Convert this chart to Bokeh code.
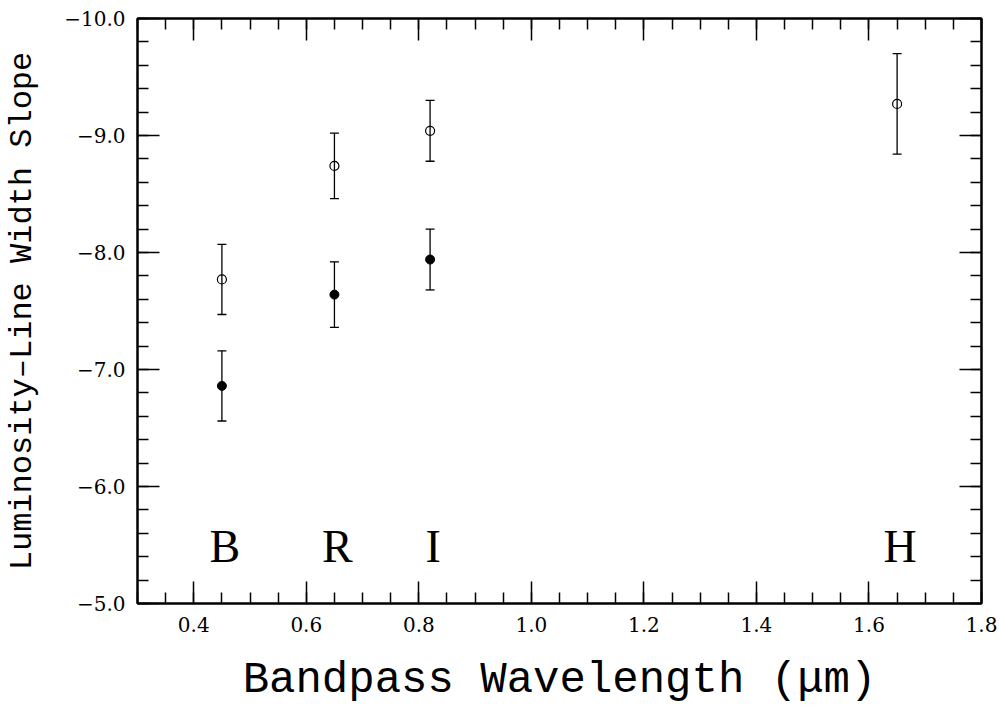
import numpy as np
from bokeh.plotting import figure
from bokeh.models import (Range1d, LinearAxis, FixedTicker, Whisker, TeeHead,
                          ColumnDataSource)
from bokeh.core.properties import value
from bokeh.embed import file_html
from bokeh.resources import INLINE

# Bandpasses and their central wavelengths (micron)
bands = ["B", "R", "I", "H"]
wavelength = [0.45, 0.65, 0.82, 1.65]

# Open symbols: slope in every band
slope_open = [-7.77, -8.74, -9.04, -9.27]
err_open = [0.30, 0.28, 0.26, 0.43]

# Filled symbols: B, R, I only
wavelength_filled = [0.45, 0.65, 0.82]
slope_filled = [-6.86, -7.64, -7.94]
err_filled = [0.30, 0.28, 0.26]

# Height at which the band names are written
band_label_y = -5.49

x_major = [0.4, 0.6, 0.8, 1.0, 1.2, 1.4, 1.6, 1.8]
x_labels = ["0.4", "0.6", "0.8", "1.0", "1.2", "1.4", "1.6", "1.8"]
y_major = [-10.0, -9.0, -8.0, -7.0, -6.0, -5.0]
y_labels = ["\u221210.0", "\u22129.0", "\u22128.0", "\u22127.0", "\u22126.0", "\u22125.0"]

x_minor = [round(v, 2) for v in np.arange(0.30, 1.8001, 0.05)]
y_minor = [round(v, 1) for v in np.arange(-10.0, -4.99, 0.2)]

TICK_FONT = "DejaVu Serif"
LABEL_FONT = "Liberation Mono"

p = figure(width=999, height=713,
           x_range=Range1d(0.3, 1.8), y_range=Range1d(-5.0, -10.0),
           output_backend="svg", toolbar_location=None,
           x_axis_type=None, y_axis_type=None,
           min_border_left=137, min_border_right=18,
           min_border_top=18, min_border_bottom=110)
p.background_fill_color = "white"
p.border_fill_color = "white"
p.outline_line_color = "black"
p.outline_line_width = 2
p.xgrid.visible = False
p.ygrid.visible = False

xt = FixedTicker(ticks=x_major, minor_ticks=x_minor)
yt = FixedTicker(ticks=y_major, minor_ticks=y_minor)


def style(ax):
    ax.axis_line_color = "black"
    ax.axis_line_width = 2
    ax.major_tick_in = 22
    ax.major_tick_out = 0
    ax.minor_tick_in = 11
    ax.minor_tick_out = 0
    ax.major_tick_line_width = 1.5
    ax.minor_tick_line_width = 1.5
    ax.major_tick_line_color = "black"
    ax.minor_tick_line_color = "black"
    ax.major_label_text_font = TICK_FONT
    ax.major_label_text_font_size = "20px"
    ax.major_label_text_color = "black"


xb = LinearAxis(ticker=xt, axis_label="Bandpass Wavelength (\u03bcm)",
                major_label_overrides=dict(zip(x_major, x_labels)))
style(xb)
xb.major_label_standoff = 13
xb.axis_label_text_font = LABEL_FONT
xb.axis_label_text_font_size = "44px"
xb.axis_label_text_font_style = "normal"
xb.axis_label_text_color = "black"
xb.axis_label_standoff = 20
p.add_layout(xb, "below")

yl = LinearAxis(ticker=yt, axis_label="Luminosity\u2013Line Width Slope",
                major_label_overrides=dict(zip(y_major, y_labels)))
style(yl)
yl.major_label_standoff = 12
yl.axis_label_text_font = LABEL_FONT
yl.axis_label_text_font_size = "32px"
yl.axis_label_text_font_style = "normal"
yl.axis_label_text_color = "black"
yl.axis_label_standoff = 20
p.add_layout(yl, "left")

# Mirror axes: ticks only, no numbers
xtop = LinearAxis(ticker=xt, major_label_overrides={v: "" for v in x_major})
style(xtop)
xtop.major_label_standoff = 0
p.add_layout(xtop, "above")

yr = LinearAxis(ticker=yt, major_label_overrides={v: "" for v in y_major})
style(yr)
yr.major_label_standoff = 0
p.add_layout(yr, "right")

# Error bars
src_open = ColumnDataSource(dict(
    x=wavelength, y=slope_open,
    lo=[s - e for s, e in zip(slope_open, err_open)],
    hi=[s + e for s, e in zip(slope_open, err_open)]))
src_filled = ColumnDataSource(dict(
    x=wavelength_filled, y=slope_filled,
    lo=[s - e for s, e in zip(slope_filled, err_filled)],
    hi=[s + e for s, e in zip(slope_filled, err_filled)]))

for src in (src_open, src_filled):
    w = Whisker(source=src, base="x", lower="lo", upper="hi",
                line_color="black", line_width=1.3,
                lower_head=TeeHead(size=9, line_color="black", line_width=1.3),
                upper_head=TeeHead(size=9, line_color="black", line_width=1.3))
    p.add_layout(w)

p.scatter("x", "y", source=src_open, marker="circle", size=9,
          fill_color=None, line_color="black", line_width=1.2)
p.scatter("x", "y", source=src_filled, marker="circle", size=9,
          fill_color="black", line_color="black", line_width=1)

# Band names
p.text(x=wavelength, y=[band_label_y] * len(bands), text=bands,
       text_font=value("Liberation Serif"), text_font_size="46px",
       text_align="center", text_baseline="alphabetic",
       text_color="black", x_offset=3)

open("out.html", "w").write(file_html(p, INLINE))
